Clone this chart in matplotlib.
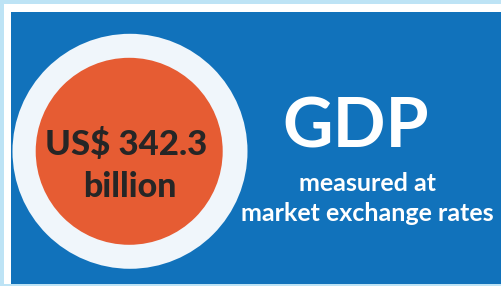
import matplotlib.pyplot as plt
from matplotlib.patches import Rectangle, Circle

# content
amount_label = "US$ 342.3"
amount_unit = "billion"
title = "GDP"
subtitle_lines = ["measured at", "market exchange rates"]

frame_color = "#bde3f5"
panel_color = "#1172bb"
ring_color = "#f0f6fb"
disc_color = "#e65c33"
dark_text = "#262626"

W, H = 502, 286
fig = plt.figure(figsize=(W / 100, H / 100), dpi=100)
ax = fig.add_axes([0, 0, 1, 1])
ax.set_xlim(0, W)
ax.set_ylim(H, 0)
ax.axis("off")
fig.patch.set_facecolor(frame_color)

# white margin then blue panel
ax.add_patch(Rectangle((4, 4), W - 4, 280, color="white", lw=0))
ax.add_patch(Rectangle((11.5, 11.5), W - 11.5, 272, color=panel_color, lw=0))

# circles
cx, cy = 130, 151.3
ax.add_patch(Circle((cx, cy), 117.5, color=ring_color, lw=0))
ax.add_patch(Circle((cx - 0.8, cy), 93.5, color=disc_color, lw=0))

font = "Lato"
ax.text(cx - 4, 155, amount_label, fontsize=25, fontweight=900,
        family=font, color=dark_text, ha="center", va="baseline")
ax.text(cx, 197, amount_unit, fontsize=24.5, fontweight=900,
        family=font, color=dark_text, ha="center", va="baseline")

ax.text(355.5, 147, title, fontsize=50, fontweight="bold",
        family=font, color="white", ha="center", va="baseline")
ax.text(367.5, 191, subtitle_lines[0], fontsize=18, fontweight="bold",
        family=font, color="white", ha="center", va="baseline")
ax.text(367.5, 221, subtitle_lines[1], fontsize=18, fontweight="bold",
        family=font, color="white", ha="center", va="baseline")

fig.savefig("out.png", dpi=100, facecolor=frame_color)
